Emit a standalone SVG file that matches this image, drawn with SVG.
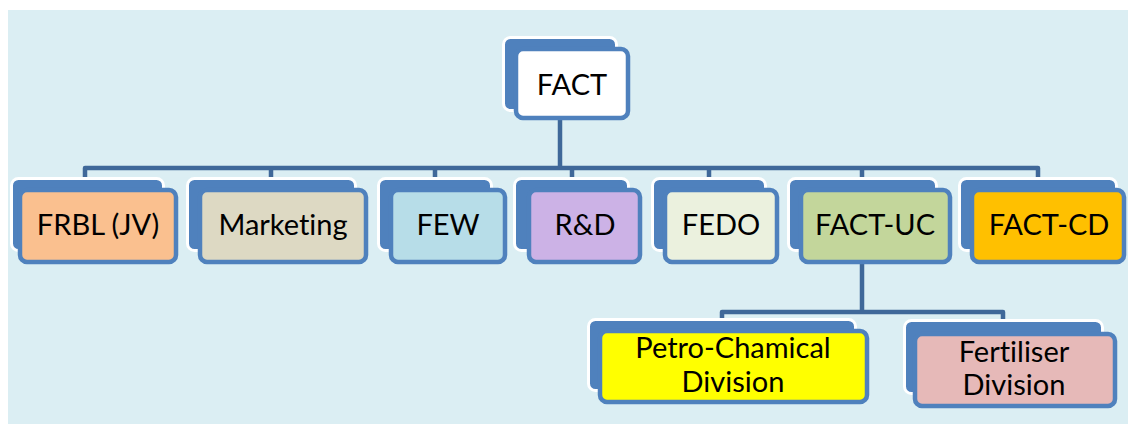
<svg xmlns="http://www.w3.org/2000/svg" width="1128" height="424" viewBox="0 0 1128 424">
<style>
.bk{fill:#4F81BD;stroke:#FFFFFF;stroke-width:3}
.fr{stroke:#4F81BD;stroke-width:4.5}
.t{font-family:Lato,"Liberation Sans",sans-serif;font-size:29px;fill:#000;text-anchor:middle;font-variant-ligatures:none}
.c{fill:none;stroke:#3F6899;stroke-width:4.5;stroke-linejoin:round}
</style>
<rect x="0" y="0" width="1128" height="424" fill="#FFFFFF"/>
<rect x="8" y="10" width="1120" height="414" fill="#DBEEF3"/>
<g id="connectors">
<path class="c" d="M560 116V168M85 182V168H1038V182M271 168V182M435 168V182M572 168V182M709 168V182M862 168V182"/>
<path class="c" d="M862 262V312M722 322V312H1003V322"/>
</g>
<g id="n-fact">
<rect class="bk" x="503.5" y="37.5" width="113" height="73" rx="7"/>
<rect class="fr" x="516" y="49" width="112" height="69" rx="7" fill="#FFFFFF"/>
<text class="t" x="572" y="95">FACT</text>
</g>
<g id="n-frbl">
<rect class="bk" x="11.5" y="178.5" width="152" height="72" rx="7"/>
<rect class="fr" x="20" y="190" width="156" height="72" rx="7" fill="#FAC08F"/>
<text class="t" x="98" y="235">FRBL (JV)</text>
</g>
<g id="n-marketing">
<rect class="bk" x="187.5" y="178.5" width="168" height="72" rx="7"/>
<rect class="fr" x="200" y="190" width="166" height="72" rx="7" fill="#DDD9C3"/>
<text class="t" x="283" y="235">Marketing</text>
</g>
<g id="n-few">
<rect class="bk" x="378.5" y="178.5" width="113" height="72" rx="7"/>
<rect class="fr" x="391" y="190" width="114" height="72" rx="7" fill="#B7DDE8"/>
<text class="t" x="448" y="235">FEW</text>
</g>
<g id="n-rd">
<rect class="bk" x="514.5" y="178.5" width="114" height="72" rx="7"/>
<rect class="fr" x="529" y="190" width="111" height="72" rx="7" fill="#CCB2E6"/>
<text class="t" x="585" y="235">R&amp;D</text>
</g>
<g id="n-fedo">
<rect class="bk" x="652.5" y="178.5" width="113" height="72" rx="7"/>
<rect class="fr" x="665" y="190" width="112" height="72" rx="7" fill="#EBF1DE"/>
<text class="t" x="721" y="235">FEDO</text>
</g>
<g id="n-factuc">
<rect class="bk" x="788.5" y="178.5" width="148" height="72" rx="7"/>
<rect class="fr" x="801" y="190" width="149" height="72" rx="7" fill="#C3D69B"/>
<text class="t" x="875" y="235">FACT-UC</text>
</g>
<g id="n-factcd">
<rect class="bk" x="959.5" y="178.5" width="157" height="72" rx="7"/>
<rect class="fr" x="972" y="190" width="152" height="72" rx="7" fill="#FFC000"/>
<text class="t" x="1049" y="235">FACT-CD</text>
</g>
<g id="n-petro">
<rect class="bk" x="588.5" y="319.5" width="267" height="71" rx="7"/>
<rect class="fr" x="600" y="331" width="267" height="71" rx="7" fill="#FFFF00"/>
<text class="t" x="733" y="358">Petro-Chamical</text>
<text class="t" x="733" y="392">Division</text>
</g>
<g id="n-fert">
<rect class="bk" x="904.5" y="320.5" width="198" height="73" rx="7"/>
<rect class="fr" x="915" y="334" width="200" height="72" rx="7" fill="#E6B9B8"/>
<text class="t" x="1014" y="362">Fertiliser</text>
<text class="t" x="1014" y="395">Division</text>
</g>
</svg>
